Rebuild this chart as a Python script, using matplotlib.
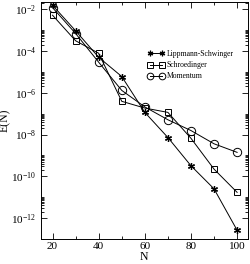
import numpy as np
import matplotlib
matplotlib.use("Agg")
import matplotlib.pyplot as plt
from matplotlib.ticker import FixedLocator, NullFormatter, LogFormatterMathtext

# -------- data --------
N = [20, 30, 40, 50, 60, 70, 80, 90, 100]
lippmann = [1.55e-2, 9.3e-4, 5.0e-5, 6.0e-6, 1.15e-7, 7.2e-9, 3.2e-10, 2.5e-11, 2.6e-13]
schroedinger = [5.2e-3, 3.1e-4, 7.8e-5, 3.9e-7, 1.85e-7, 1.15e-7, 6.6e-9, 2.2e-10, 1.7e-11]
momentum = [1.2e-2, 6.9e-4, 2.9e-5, 1.3e-6, 2.1e-7, 5.1e-8, 1.55e-8, 3.6e-9, 1.4e-9]

plt.rcParams['font.family'] = ['Liberation Serif', 'DejaVu Serif']
plt.rcParams['mathtext.fontset'] = 'stix'

fig = plt.figure(figsize=(2.5, 2.64), dpi=100)
ax = fig.add_axes([0.164, 0.095, 0.826, 0.897])

lw = 0.7
ax.plot(N, lippmann, color='black', lw=lw, marker=(6, 2, 0), ms=5, mec='black',
        mew=0.9, label='Lippmann-Schwinger')
ax.plot(N, schroedinger, color='black', lw=lw, marker='s', ms=5, mfc='none', mec='black',
        mew=0.7, label='Schroedinger')
ax.plot(N, momentum, color='black', lw=lw, marker='o', ms=6, mfc='none', mec='black',
        mew=0.7, label='Momentum')

ax.set_yscale('log')
ax.set_xlim(15, 104.5)
ax.set_ylim(1e-13, 2.2e-2)

ax.set_xticks([20, 40, 60, 80, 100])
ax.xaxis.set_minor_locator(FixedLocator([30, 50, 70, 90]))

majors = [10.0 ** e for e in range(-12, 0, 2)]
ax.yaxis.set_major_locator(FixedLocator(majors))
ax.yaxis.set_major_formatter(LogFormatterMathtext())
minors = [k * m for m in [1e-14] + majors for k in range(2, 11)]
ax.yaxis.set_minor_locator(FixedLocator(minors))
ax.yaxis.set_minor_formatter(NullFormatter())

ax.tick_params(which='both', direction='in', top=True, right=True, labelsize=8, width=0.6)
ax.tick_params(which='major', length=4)
ax.tick_params(which='minor', length=2)
ax.tick_params(axis='x', pad=2.5)
for s in ax.spines.values():
    s.set_linewidth(0.7)

ax.set_xlabel('N', fontsize=8.5, labelpad=0)
ax.set_ylabel('E(N)', fontsize=8.5, labelpad=0)

leg = ax.legend(loc='upper left', bbox_to_anchor=(0.5, 0.81), frameon=False, fontsize=5.5,
                numpoints=2, markerscale=0.8, handlelength=2.2, handletextpad=0.3,
                labelspacing=0.4, borderaxespad=0.0)

fig.savefig('out.png', dpi=100)
